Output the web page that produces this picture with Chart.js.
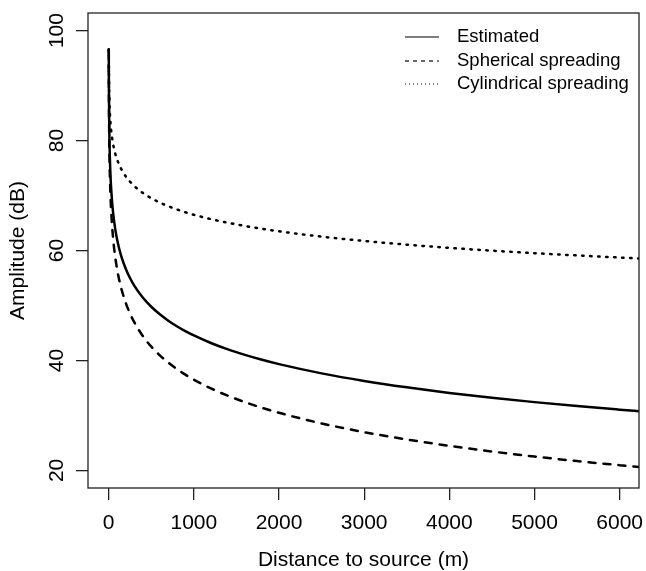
<!DOCTYPE html>
<html><head><meta charset="utf-8">
<script src="https://cdn.jsdelivr.net/npm/chart.js@4/dist/chart.umd.min.js"></script>
<style>html,body{margin:0;padding:0;background:#fff;} canvas{display:block;}</style>
</head><body>
<canvas id="c" width="646" height="571"></canvas>
<script>
// Distance to source (m)
const distances   = [1, 2, 5, 10, 20, 30, 50, 75, 100, 125, 150, 200, 250, 300, 400, 500, 600, 700, 800, 900, 1000, 1200, 1400, 1600, 1800, 2000, 2500, 3000, 3500, 4000, 4500, 5000, 5500, 6000, 6250];
// Amplitude (dB)
const estimated   = [96.60, 91.38, 84.47, 79.25, 74.03, 70.97, 67.12, 64.07, 61.90, 60.22, 58.84, 56.68, 55.00, 53.62, 51.45, 49.77, 48.40, 47.24, 46.23, 45.34, 44.55, 43.18, 42.01, 41.01, 40.12, 39.33, 37.65, 36.27, 35.11, 34.10, 33.22, 32.42, 31.70, 31.05, 30.74];
const spherical   = [96.50, 90.48, 82.52, 76.50, 70.48, 66.96, 62.52, 59.00, 56.50, 54.56, 52.98, 50.48, 48.54, 46.96, 44.46, 42.52, 40.94, 39.60, 38.44, 37.42, 36.50, 34.92, 33.58, 32.42, 31.39, 30.48, 28.54, 26.96, 25.62, 24.46, 23.44, 22.52, 21.69, 20.94, 20.58];
const cylindrical = [96.50, 93.49, 89.51, 86.50, 83.49, 81.73, 79.51, 77.75, 76.50, 75.53, 74.74, 73.49, 72.52, 71.73, 70.48, 69.51, 68.72, 68.05, 67.47, 66.96, 66.50, 65.71, 65.04, 64.46, 63.95, 63.49, 62.52, 61.73, 61.06, 60.48, 59.97, 59.51, 59.10, 58.72, 58.54];
const seriesNames = ['Estimated', 'Spherical spreading', 'Cylindrical spreading'];
const xTicks = [0, 1000, 2000, 3000, 4000, 5000, 6000];
const yTicks = [20, 40, 60, 80, 100];
const xTitle = 'Distance to source (m)';
const yTitle = 'Amplitude (dB)';

const FONT = '"Liberation Sans", Arial, Helvetica, sans-serif';
const styles = [
  { dash: [], legendDash: [] },
  { dash: [7, 8], legendDash: [4, 4] },
  { dash: [1.5, 6.5], legendDash: [1, 3] }
];
const seriesValues = [estimated, spherical, cylindrical];

const datasets = seriesValues.map((vals, i) => ({
  label: seriesNames[i],
  data: distances.map((d, j) => ({ x: d, y: vals[j] })),
  borderColor: '#000',
  borderWidth: 2.5,
  borderDash: styles[i].dash,
  borderCapStyle: 'round',
  borderJoinStyle: 'round',
  pointRadius: 0,
  fill: false,
  cubicInterpolationMode: 'monotone'
}));

const framePlugin = {
  id: 'frame',
  afterDraw(chart) {
    const { ctx, chartArea: a } = chart;
    ctx.save();
    ctx.strokeStyle = '#222';
    ctx.lineWidth = 1.3;
    ctx.setLineDash([]);
    ctx.strokeRect(a.left, a.top, a.right - a.left, a.bottom - a.top);
    // legend (top-right, no box)
    const lx0 = a.right - 234, lx1 = a.right - 200, tx = a.right - 182;
    const rowY = [a.top + 24, a.top + 48, a.top + 71];
    ctx.font = '18.5px ' + FONT;
    ctx.fillStyle = '#000';
    ctx.textBaseline = 'middle';
    ctx.textAlign = 'left';
    seriesNames.forEach((name, i) => {
      ctx.beginPath();
      ctx.strokeStyle = '#000';
      ctx.lineWidth = 1.2;
      ctx.lineCap = 'butt';
      ctx.setLineDash(styles[i].legendDash);
      ctx.moveTo(lx0, rowY[i]);
      ctx.lineTo(lx1, rowY[i]);
      ctx.stroke();
      ctx.setLineDash([]);
      ctx.fillText(name, tx, rowY[i]);
    });
    ctx.restore();
  }
};

new Chart(document.getElementById('c'), {
  type: 'line',
  data: { datasets },
  options: {
    responsive: false,
    devicePixelRatio: 1,
    animation: false,
    layout: { padding: { top: 13, right: 7, left: 0, bottom: 0 } },
    plugins: { legend: { display: false }, tooltip: { enabled: false } },
    scales: {
      x: {
        type: 'linear',
        min: -243,
        max: 6227,
        afterBuildTicks: s => { s.ticks = xTicks.map(v => ({ value: v })); },
        afterFit: s => { s.height = 83; s.paddingLeft = 0; s.paddingRight = 0; },
        border: { display: false },
        grid: { drawOnChartArea: false, drawTicks: true, tickLength: 12, color: '#222', lineWidth: 1.3 },
        ticks: { color: '#000', font: { family: FONT, size: 21 }, padding: 11, maxRotation: 0, minRotation: 0, callback: v => String(v) },
        title: { display: true, text: xTitle, color: '#000', font: { family: FONT, size: 21, lineHeight: 1 }, padding: { top: 0, bottom: 0 } }
      },
      y: {
        type: 'linear',
        min: 16.8,
        max: 103.2,
        afterBuildTicks: s => { s.ticks = yTicks.map(v => ({ value: v })); },
        afterFit: s => { s.width = 88; s.paddingTop = 0; s.paddingBottom = 0; },
        border: { display: false },
        grid: { drawOnChartArea: false, drawTicks: true, tickLength: 12, color: '#222', lineWidth: 1.3 },
        ticks: { color: '#000', font: { family: FONT, size: 21 }, padding: 1, minRotation: 90, maxRotation: 90, crossAlign: 'center', callback: v => String(v) },
        title: { display: true, text: yTitle, color: '#000', font: { family: FONT, size: 21, lineHeight: 1 }, padding: { top: 8, bottom: 0 } }
      }
    }
  },
  plugins: [framePlugin]
});
</script>
</body></html>
